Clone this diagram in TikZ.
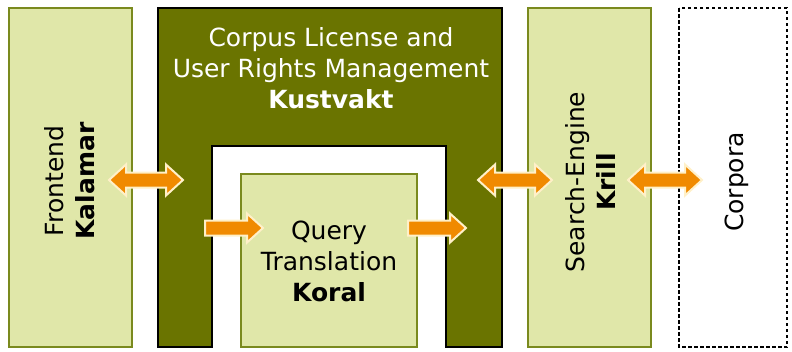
\documentclass[tikz,border=0pt]{standalone}
\usepackage{fontspec}
\setmainfont{DejaVu Sans}
\definecolor{lightol}{HTML}{E0E7A9}
\definecolor{olborder}{HTML}{7A8A1E}
\definecolor{darkol}{HTML}{6A7400}
\definecolor{orng}{HTML}{F08A00}
\definecolor{pale}{HTML}{FFF0C8}
\tikzset{
  lightbox/.style={fill=lightol,draw=olborder,line width=1.2pt},
  arr/.style={fill=orng,draw=pale,line width=2pt,line join=miter},
  lbl/.style={font=\fontsize{25}{31}\selectfont,align=center,inner sep=0pt},
}
\newcommand\mydarrow[3]{\filldraw[arr] (#1+17,#3-7.5) -- (#2-17,#3-7.5) -- (#2-17,#3-15.5) -- (#2,#3) -- (#2-17,#3+15.5) -- (#2-17,#3+7.5) -- (#1+17,#3+7.5) -- (#1+17,#3+15.5) -- (#1,#3) -- (#1+17,#3-15.5) -- cycle;}
\newcommand\mysarrow[3]{\filldraw[arr] (#1,#3-7.5) -- (#2-16,#3-7.5) -- (#2-16,#3-14.5) -- (#2,#3) -- (#2-16,#3+14.5) -- (#2-16,#3+7.5) -- (#1,#3+7.5) -- cycle;}
\begin{document}
\begin{tikzpicture}[x=1pt,y=-1pt]
\useasboundingbox (0,0) rectangle (792,351);
% Kalamar
\path[lightbox] (9,8) rectangle (132,347);
\node[lbl,rotate=90] (kal) at (70,181) {Frontend\\\textbf{Kalamar}};
% Kustvakt
\filldraw[fill=darkol,draw=black,line width=1.2pt] (158,8) -- (502,8) -- (502,347) -- (446,347) -- (446,146) -- (212,146) -- (212,347) -- (158,347) -- cycle;
\node[lbl,text=white] (kust) at (331,68) {Corpus License and\\User Rights Management\\\textbf{Kustvakt}};
% Koral
\path[lightbox] (241,174) rectangle (417,347);
\node[lbl] (kor) at (329,261) {Query\\Translation\\\textbf{Koral}};
% Krill
\path[lightbox] (528,8) rectangle (651,347);
\node[lbl,rotate=90] (kri) at (590,182) {Search-Engine\\\textbf{Krill}};
% Corpora
\draw[dash pattern=on 3.5pt off 2.5pt,line width=1.5pt] (679,8) rectangle (787,347);
\node[lbl,rotate=90] (cor) at (737,182) {Corpora};
% arrows
\mydarrow{109}{183}{180}
\mydarrow{478}{552}{180}
\mydarrow{628}{702}{180}
\mysarrow{205}{263}{228}
\mysarrow{408}{466}{228}
\end{tikzpicture}
\end{document}
